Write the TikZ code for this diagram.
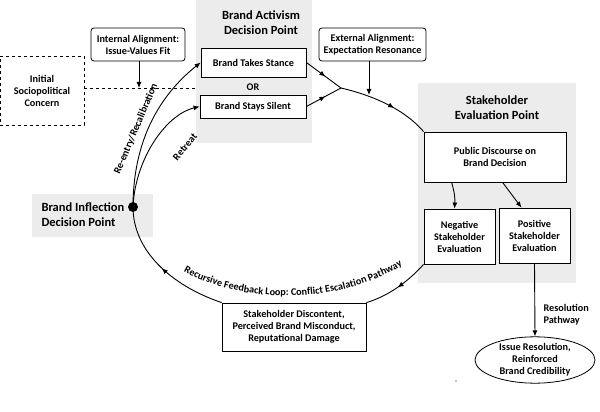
\documentclass[tikz,border=0pt]{standalone}
\usepackage{fontspec}
\setmainfont{Carlito}
\usetikzlibrary{arrows.meta,decorations.markings,decorations.text,shapes.geometric}
\begin{document}
\begin{tikzpicture}[x=1pt,y=-1pt,
  box/.style={draw,line width=0.8pt,fill=white,font=\bfseries\fontsize{10.2}{12}\selectfont,align=center,inner sep=0},
  rbox/.style={box,rounded corners=3pt},
  panel/.style={fill=gray!15,draw=none},
  title/.style={font=\bfseries\fontsize{12.5}{15}\selectfont,align=center},
  ln/.style={line width=0.9pt},
  arr/.style={ln,-{Latex[length=6pt,width=5pt]}},
  mid/.style={ln,postaction={decorate},decoration={markings,mark=at position #1 with {\arrow{Latex[length=6pt,width=5pt]}}}},
  lbl/.style={font=\bfseries\fontsize{10.2}{12}\selectfont}]
\useasboundingbox (0,0) rectangle (600,412);
% panels
\fill[panel] (196,0) rectangle (312,143);
\fill[panel] (418,83) rectangle (576,283);
\fill[panel] (32,194) rectangle (153,237);
\node[title] (tA) at (261,23) {Brand Activism\\Decision Point};
\node[title] (tS) at (497,108) {Stakeholder\\Evaluation Point};
\node[title,align=left,anchor=west] (tI) at (38,215) {Brand Inflection\\Decision Point};
% boxes
\node[box,minimum width=105pt,minimum height=29pt] (take) at (253.5,62.5) {Brand Takes Stance};
\node[lbl] (or) at (253,87) {OR};
\node[box,minimum width=106pt,minimum height=23pt] (silent) at (253,106.5) {Brand Stays Silent};
\node[rbox,minimum width=94pt,minimum height=33pt] (int) at (138,44.5) {Internal Alignment:\\Issue-Values Fit};
\node[rbox,minimum width=107pt,minimum height=33pt] (ext) at (372.5,44.5) {External Alignment:\\Expectation Resonance};
\node[box,dashed,minimum width=84pt,minimum height=69pt] (init) at (42,90.5) {Initial\\Sociopolitical\\Concern};
\node[box,minimum width=142pt,minimum height=50pt] (pub) at (495,157) {Public Discourse on\\Brand Decision};
\node[box,minimum width=71pt,minimum height=55pt] (neg) at (459.5,236.5) {Negative\\Stakeholder\\Evaluation};
\node[box,minimum width=71pt,minimum height=55pt] (pos) at (534.5,235.5) {Positive\\Stakeholder\\Evaluation};
\node[box,minimum width=144pt,minimum height=48pt] (disc) at (294,327) {Stakeholder Discontent,\\Perceived Brand Misconduct,\\Reputational Damage};
\node[box,ellipse,minimum width=120pt,minimum height=46pt,inner sep=0] (res) at (535,360) {Issue Resolution,\\Reinforced\\Brand Credibility};
\fill (456,381) circle (0.6pt);
% coordinates
\coordinate (j) at (341,88);
\coordinate (ea) at (369,95);
\coordinate (dl) at (139,88);
\fill (133,207) circle (5pt);
\coordinate (dot) at (133,207);
% connectors
\draw[ln,dashed] (init.east |- dl) -- (196,88);
\draw[arr] (int.south -| dl) -- (dl);
\draw[arr] (ext.south -| ea) -- (ea);
\draw[mid=0.55] (take.east) -- (j);
\draw[mid=0.55] (silent.east) -- (j);
\draw[mid=0.6] (j) .. controls (375,96) and (405,110) .. (pub.north west);
\draw[arr] ([xshift=28pt]pub.south west) to[bend left=10] ([xshift=-5pt]neg.north);
\draw[arr] ([xshift=79pt]pub.south west) -- ([xshift=-13pt]pos.north);
\draw[mid=0.5] (neg.south west) .. controls (405,285) and (385,297) .. (disc.north east);
\draw[mid=0.5] (disc.north west) .. controls (170,285) and (133,250) .. (dot);
\draw[arr] (dot) .. controls (133,140) and (160,95) .. (take.west);
\draw[arr] (dot) .. controls (135,160) and (165,115) .. (silent.west);
\draw[arr] (pos.south) -- (res.north);
% labels
\node[lbl,rotate=67] (re) at (136,129) {Re-entry/Recalibration};
\node[lbl,rotate=50] (rt) at (185,147) {Retreat};
\node[lbl,align=left,anchor=west] (rp) at (540,315) {Resolution\\Pathway};
\path[decorate,decoration={text along path,text align=center,text={|\bfseries\fontsize{10.2}{12}\selectfont|Recursive Feedback Loop: Conflict Escalation Pathway}}]
  (178,268) .. controls (240,306) and (340,306) .. (408,262);
\end{tikzpicture}
\end{document}
